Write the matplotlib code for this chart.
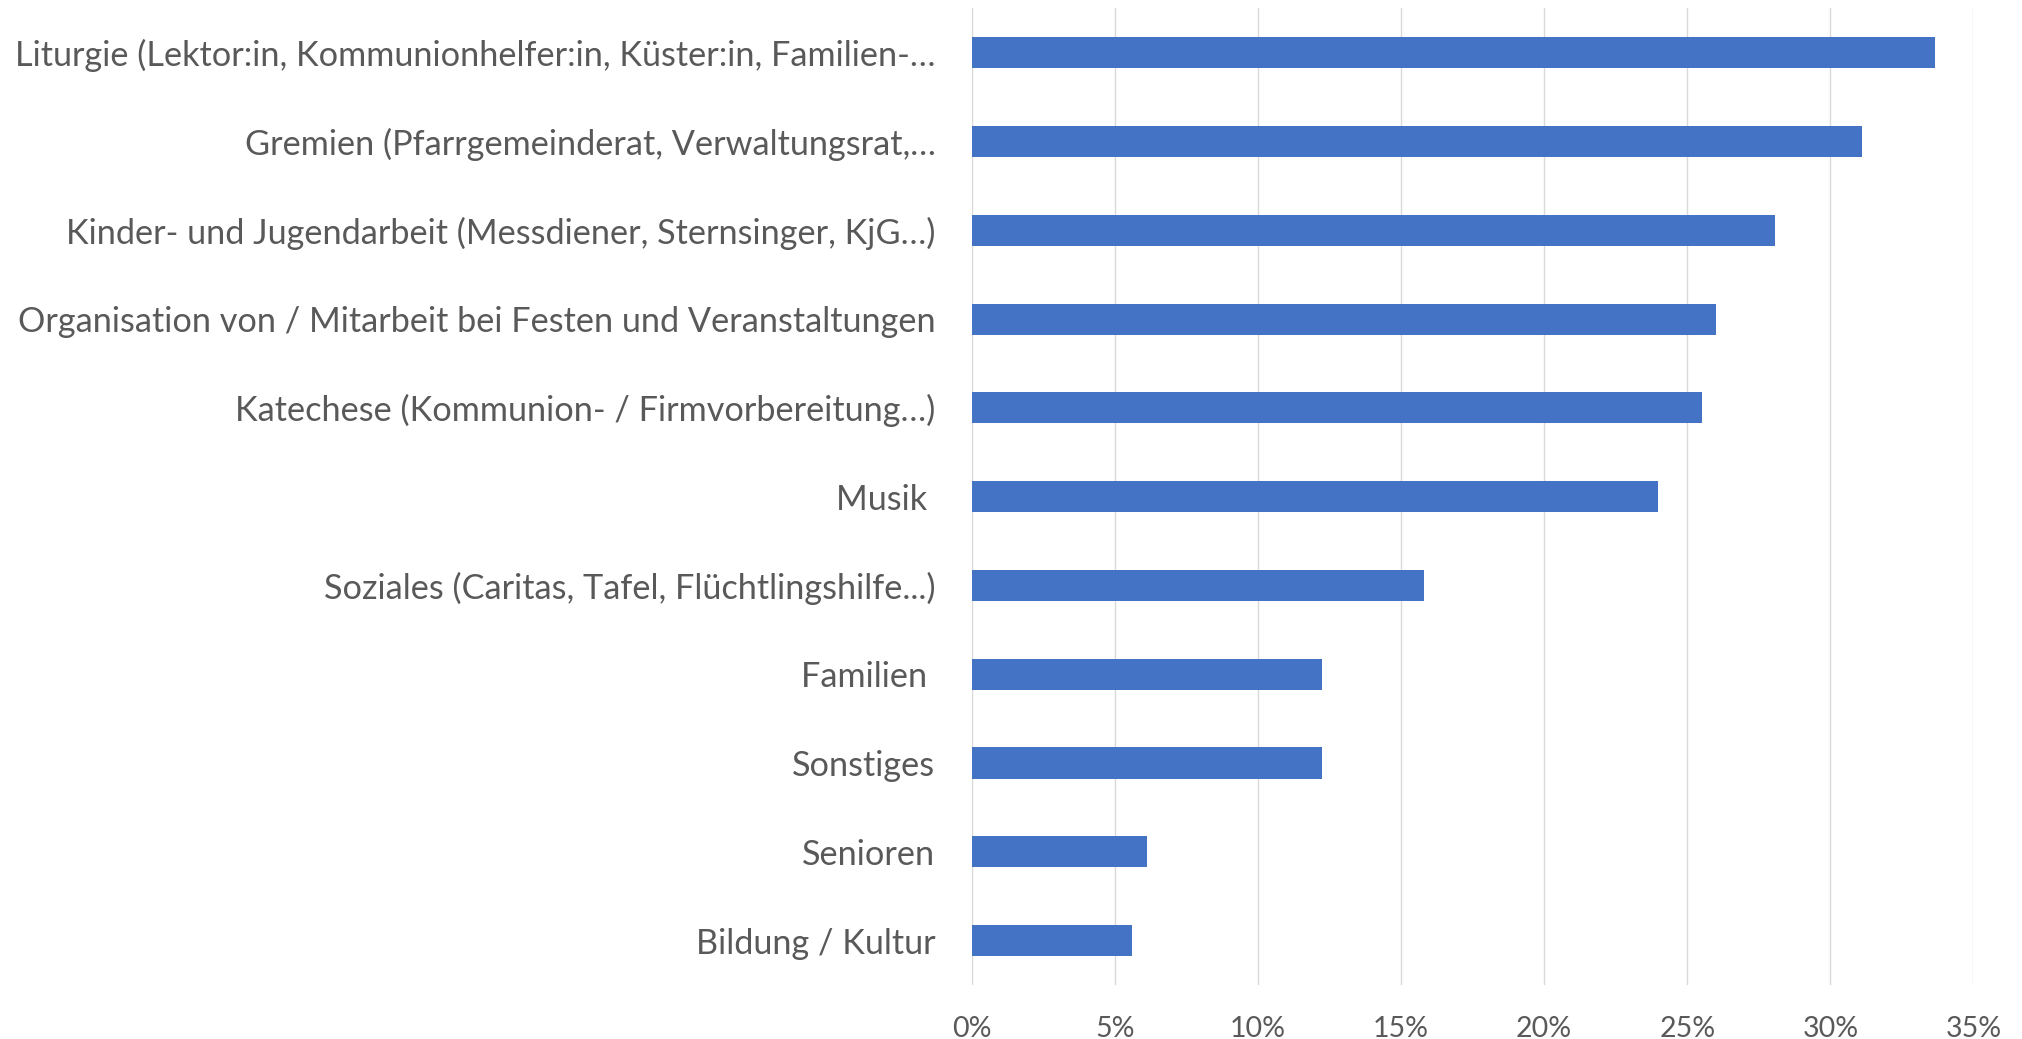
import matplotlib
matplotlib.use("Agg")
import matplotlib.pyplot as plt
from matplotlib.ticker import FuncFormatter

categories = [
    "Liturgie (Lektor:in, Kommunionhelfer:in, Küster:in, Familien-…",
    "Gremien (Pfarrgemeinderat, Verwaltungsrat,…",
    "Kinder- und Jugendarbeit (Messdiener, Sternsinger, KjG…)",
    "Organisation von / Mitarbeit bei Festen und Veranstaltungen",
    "Katechese (Kommunion- / Firmvorbereitung…)",
    "Musik ",
    "Soziales (Caritas, Tafel, Flüchtlingshilfe...)",
    "Familien ",
    "Sonstiges",
    "Senioren",
    "Bildung / Kultur",
]
values = [0.3367, 0.3112, 0.2806, 0.2602, 0.2551, 0.2398, 0.1582, 0.1224, 0.1224, 0.0612, 0.0561]
xticks = [0, 0.05, 0.10, 0.15, 0.20, 0.25, 0.30, 0.35]

plt.rcParams['font.family'] = ['Lato', 'DejaVu Sans']
text_color = "#595959"

fig = plt.figure(figsize=(20.22, 10.39), dpi=100)
ax = fig.add_axes([0.4805, 0.052, 0.976 - 0.4805, 0.992 - 0.052])

ypos = list(range(len(categories)))
ax.barh(ypos, values, height=0.35, color="#4472C4", zorder=3)
ax.set_yticks(ypos)
ax.set_yticklabels(categories)
ax.set_ylim(len(categories) - 0.5, -0.5)
ax.set_xlim(0, 0.35)
ax.set_xticks(xticks)
ax.xaxis.set_major_formatter(FuncFormatter(lambda v, p: f"{round(v*100)}%"))

ax.grid(axis="x", color="#D9D9D9", linewidth=1.0, zorder=0)
ax.grid(axis="y", visible=False)
for s in ax.spines.values():
    s.set_visible(False)
ax.tick_params(axis="both", length=0, colors=text_color)
ax.tick_params(axis="y", pad=26, labelsize=24.7)
ax.tick_params(axis="x", pad=22, labelsize=20.5)

fig.savefig("out.png", dpi=100, facecolor="white")
